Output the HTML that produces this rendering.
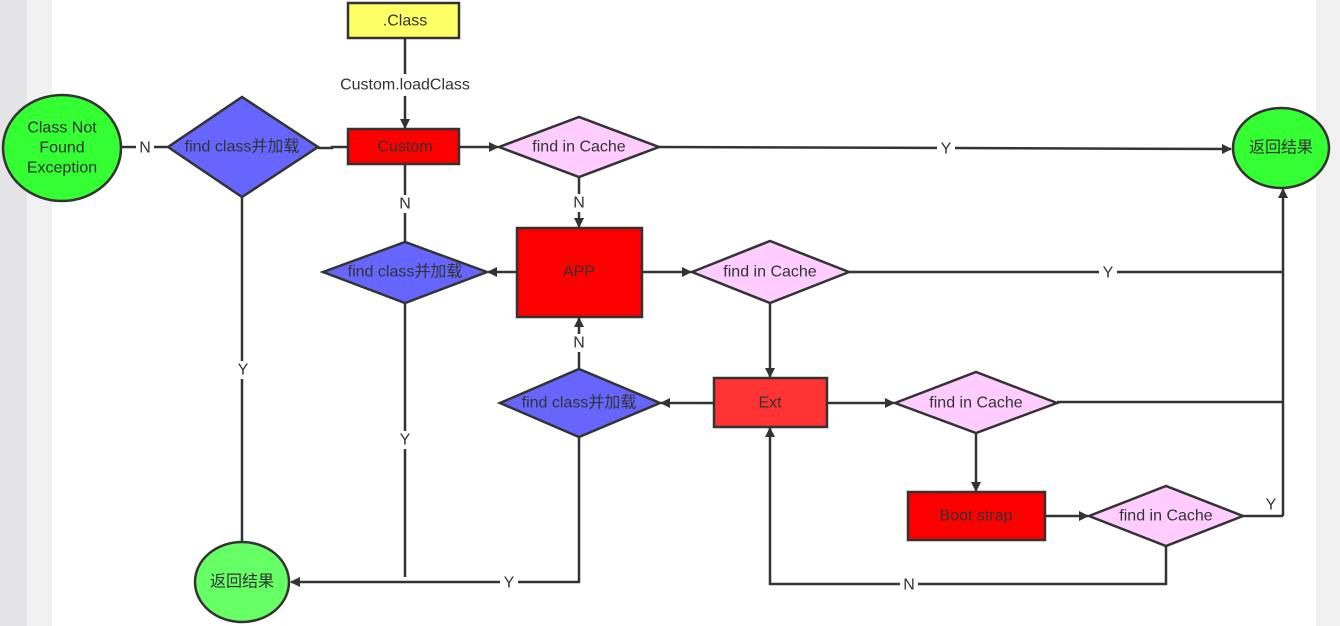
<!DOCTYPE html>
<html><head><meta charset="utf-8"><style>
html,body{margin:0;padding:0;width:1340px;height:626px;overflow:hidden;background:#fff}
svg{display:block}
text{font-family:"Liberation Sans","Noto Sans CJK SC",sans-serif;font-size:16px;fill:#333;text-anchor:middle;dominant-baseline:central}
</style></head><body>
<svg width="1340" height="626" viewBox="0 0 1340 626">
<defs><marker id="a" markerWidth="10" markerHeight="10" refX="9" refY="5" orient="auto" markerUnits="userSpaceOnUse"><path d="M0,0 L10,5 L0,10 Z" fill="#333"/></marker></defs>
<rect x="0" y="0" width="27" height="626" fill="#e4e4e6"/>
<rect x="27" y="0" width="25" height="626" fill="#f0f0f0"/>
<rect x="1316" y="0" width="24" height="626" fill="#f0f0f0"/>
<g stroke="#333" stroke-width="2.5" fill="none">
<line x1="405" y1="38" x2="405" y2="128" marker-end="url(#a)"/>
<line x1="459" y1="147" x2="498" y2="147" marker-end="url(#a)"/>
<polyline points="659,147 1231,149" marker-end="url(#a)"/>
<line x1="579" y1="177" x2="579" y2="227" marker-end="url(#a)"/>
<line x1="642" y1="272" x2="691" y2="272" marker-end="url(#a)"/>
<line x1="849" y1="272" x2="1283" y2="272"/>
<polyline points="1283,516 1283,189" marker-end="url(#a)"/>
<line x1="770" y1="303" x2="770" y2="377" marker-end="url(#a)"/>
<line x1="827" y1="403" x2="894" y2="403" marker-end="url(#a)"/>
<line x1="1057" y1="402" x2="1283" y2="402"/>
<line x1="976" y1="433" x2="976" y2="491" marker-end="url(#a)"/>
<line x1="1045" y1="516" x2="1088" y2="516" marker-end="url(#a)"/>
<line x1="1243" y1="516" x2="1283" y2="516"/>
<polyline points="1166,546 1166,584 770,584 770,428" marker-end="url(#a)"/>
<line x1="714" y1="403" x2="661" y2="403" marker-end="url(#a)"/>
<line x1="579" y1="369" x2="579" y2="318" marker-end="url(#a)"/>
<polyline points="579,437 579,582 291,582" marker-end="url(#a)"/>
<line x1="517" y1="272" x2="488" y2="272" marker-end="url(#a)"/>
<line x1="405" y1="303" x2="405" y2="577"/>
<line x1="405" y1="164" x2="405" y2="242"/>
<polyline points="348,147 332,147 332,148 318,148"/>
<line x1="242" y1="197" x2="242" y2="542"/>
<line x1="168" y1="147" x2="122" y2="147"/>
</g>
<g stroke="#333" stroke-width="2.5">
<rect x="348" y="3" width="111" height="35" fill="#ffff66"/>
<rect x="348" y="129" width="111" height="35" fill="#ff0000"/>
<rect x="517" y="228" width="125" height="89" fill="#ff0000"/>
<rect x="714" y="378" width="113" height="49" fill="#ff3333"/>
<rect x="908" y="492" width="137" height="48" fill="#ff0000"/>
<polygon points="499,147 579,117 659,147 579,177" fill="#ffccff"/>
<polygon points="692,272 770,241 849,272 770,303" fill="#ffccff"/>
<polygon points="895,403 976,372 1057,403 976,433" fill="#ffccff"/>
<polygon points="1089,516 1166,486 1243,516 1166,546" fill="#ffccff"/>
<polygon points="500,403 579,369 660,403 579,437" fill="#6666ff"/>
<polygon points="323,272 405,242 487,272 405,303" fill="#6666ff"/>
<polygon points="168,147 242,97 318,147 242,197" fill="#6666ff"/>
<ellipse cx="1281" cy="148" rx="48" ry="40" fill="#33ff33"/>
<ellipse cx="242" cy="582" rx="47" ry="40" fill="#66ff66"/>
<ellipse cx="62" cy="148" rx="59" ry="53" fill="#33ff33"/>
</g>
<g>
<rect x="336" y="74" width="140" height="22" fill="#fff"/>
<rect x="937" y="140" width="18" height="18" fill="#fff"/>
<rect x="570" y="194" width="18" height="18" fill="#fff"/>
<rect x="1099" y="264" width="18" height="18" fill="#fff"/>
<rect x="570" y="334" width="18" height="18" fill="#fff"/>
<rect x="396" y="195" width="18" height="18" fill="#fff"/>
<rect x="396" y="431" width="18" height="18" fill="#fff"/>
<rect x="234" y="361" width="18" height="18" fill="#fff"/>
<rect x="136" y="139" width="18" height="18" fill="#fff"/>
<rect x="500" y="574" width="18" height="18" fill="#fff"/>
<rect x="900" y="576" width="18" height="18" fill="#fff"/>
</g>
<text x="405" y="21">.Class</text>
<text x="405" y="85">Custom.loadClass</text>
<text x="405" y="147">Custom</text>
<text x="579" y="147">find in Cache</text>
<text x="946" y="149">Y</text>
<text x="1281" y="148">返回结果</text>
<text x="579" y="203">N</text>
<text x="579" y="272">APP</text>
<text x="770" y="272">find in Cache</text>
<text x="1108" y="273">Y</text>
<text x="770" y="403">Ext</text>
<text x="976" y="403">find in Cache</text>
<text x="976" y="516">Boot strap</text>
<text x="1166" y="516">find in Cache</text>
<text x="1271" y="505">Y</text>
<text x="909" y="585">N</text>
<text x="579" y="403">find class并加载</text>
<text x="579" y="343">N</text>
<text x="509" y="583">Y</text>
<text x="242" y="582">返回结果</text>
<text x="405" y="272">find class并加载</text>
<text x="405" y="440">Y</text>
<text x="405" y="204">N</text>
<text x="242" y="147">find class并加载</text>
<text x="243" y="370">Y</text>
<text x="145" y="148">N</text>
<text x="62" y="128">Class Not</text>
<text x="62" y="148">Found</text>
<text x="62" y="168">Exception</text>
</svg>
</body></html>
